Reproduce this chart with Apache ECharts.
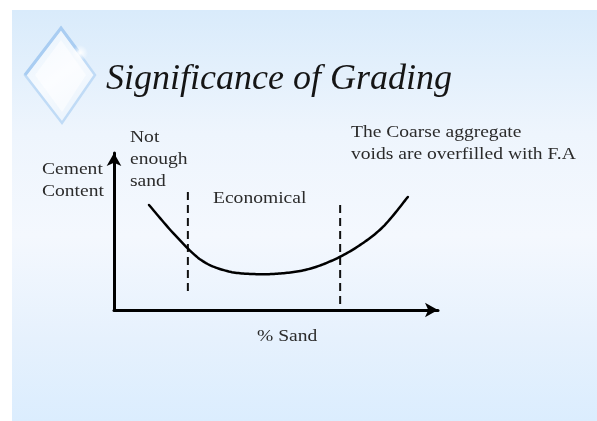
<!DOCTYPE html>
<html>
<head>
<meta charset="utf-8">
<script src="https://cdn.jsdelivr.net/npm/echarts@6/dist/echarts.min.js"></script>
<style>
html,body{margin:0;padding:0;background:#fff;}
#c{width:597px;height:421px;}
</style>
</head>
<body>
<div id="c"></div>
<script>
// ---- data ----
var curveX = [10.8, 18.8, 26.9, 34.9, 42.9, 50.9, 59.0, 67.0, 75.0, 83.0, 90.7];
var curveY = [66.9, 47.8, 31.8, 24.8, 22.9, 23.2, 25.5, 31.2, 40.1, 52.9, 72.0];
var dividerX = [22.8, 69.8];
var dividerYFrom = [12.1, 3.8];
var dividerYTo = [77.1, 68.8];
var titleText = 'Significance of Grading';
var yAxisName = ['Cement', 'Content'];
var xAxisName = '% Sand';
var leftZoneLabel = ['Not', 'enough', 'sand'];
var midZoneLabel = 'Economical';
var rightZoneLabel = ['The Coarse aggregate', 'voids are overfilled with F.A'];

var chart = echarts.init(document.getElementById('c'), null, {renderer: 'canvas'});

var curveData = curveX.map(function (x, i) { return [x, curveY[i]]; });
var dividerSeries = dividerX.map(function (x, i) {
  return {
    type: 'line', silent: true, symbol: 'none',
    data: [[x, dividerYFrom[i]], [x, dividerYTo[i]]],
    lineStyle: {color: '#111', width: 2, type: [8, 5]}, z: 3
  };
});

// Catmull-Rom curve through the data points, positioned by the axes (api.coord)
function renderCurve(params, api) {
  if (params.dataIndex !== 0) return null;
  var pts = curveData.map(function (d) { return api.coord(d); });
  var out = [pts[0]];
  for (var i = 0; i < pts.length - 1; i++) {
    var p0 = pts[i - 1] || pts[i], p1 = pts[i], p2 = pts[i + 1], p3 = pts[i + 2] || pts[i + 1];
    for (var s = 1; s <= 16; s++) {
      var t = s / 16, t2 = t * t, t3 = t2 * t;
      var pt = [0, 1].map(function (k) {
        return 0.5 * ((2 * p1[k]) + (-p0[k] + p2[k]) * t +
          (2 * p0[k] - 5 * p1[k] + 4 * p2[k] - p3[k]) * t2 +
          (-p0[k] + 3 * p1[k] - 3 * p2[k] + p3[k]) * t3);
      });
      out.push(pt);
    }
  }
  return {type: 'polyline', shape: {points: out},
    style: {stroke: '#000', lineWidth: 2.5, fill: null, lineJoin: 'round', lineCap: 'round'}};
}

var serif = '"Liberation Serif", "DejaVu Serif", serif';
var txtColor = '#2b2b2b';
function label(text, x, y) {
  return {type: 'text', x: x, y: y, scaleX: 1.15, z: 10,
    style: {text: text, x: 0, y: 0, fill: txtColor, font: '17px ' + serif, textVerticalAlign: 'middle'}};
}

var graphics = [
  {type: 'rect', shape: {x: 12, y: 10, width: 585, height: 411}, z: -10,
   style: {fill: new echarts.graphic.LinearGradient(0, 0, 0, 1, [
     {offset: 0, color: '#d9ebfb'},
     {offset: 0.3, color: '#eef5fd'},
     {offset: 0.55, color: '#f4f8fe'},
     {offset: 0.8, color: '#e6f1fd'},
     {offset: 1, color: '#dbedfe'}
   ])}},
  {type: 'polygon', shape: {points: [[61, 28], [95, 75], [62, 123], [25, 75]]}, z: -5,
   style: {fill: new echarts.graphic.LinearGradient(0, 0, 1, 1, [
     {offset: 0, color: '#e6f2fd'}, {offset: 0.5, color: '#f6fafe'}, {offset: 1, color: '#e6f1fc'}
   ]), stroke: '#c0dbf6', lineWidth: 2.5}},
  {type: 'polyline', shape: {points: [[25, 75], [61, 28], [78, 51]]}, z: -4,
   style: {stroke: '#a9cdf2', lineWidth: 3, fill: null}},
  {type: 'polygon', shape: {points: [[61, 40], [86, 75], [62, 112], [35, 75]]}, z: -4,
   style: {fill: 'rgba(255,255,255,0.55)'}},
  {type: 'circle', shape: {cx: 80, cy: 53, r: 8}, z: -3,
   style: {fill: new echarts.graphic.RadialGradient(0.5, 0.5, 0.5, [
     {offset: 0, color: 'rgba(255,255,255,1)'}, {offset: 1, color: 'rgba(255,255,255,0)'}
   ])}},
  {type: 'text', z: 10, style: {text: titleText, x: 106, y: 80, textVerticalAlign: 'middle',
    fill: '#151515', font: 'italic 36px ' + serif}},
  label(yAxisName[0], 42, 170),
  label(yAxisName[1], 42, 192),
  label(leftZoneLabel[0], 130, 138),
  label(leftZoneLabel[1], 130, 160),
  label(leftZoneLabel[2], 130, 182),
  label(midZoneLabel, 213, 199),
  label(rightZoneLabel[0], 351, 133),
  label(rightZoneLabel[1], 351, 155),
  label(xAxisName, 257, 337)
];

chart.setOption({
  animation: false,
  backgroundColor: '#ffffff',
  grid: {left: 114, right: 159, top: 153, bottom: 111},
  xAxis: {
    type: 'value', min: 0, max: 100,
    axisLine: {show: true, lineStyle: {color: '#000', width: 3}, symbol: ['none', 'arrow'], symbolSize: [11, 13]},
    axisTick: {show: false}, axisLabel: {show: false}, splitLine: {show: false}
  },
  yAxis: {
    type: 'value', min: 0, max: 100,
    axisLine: {show: true, lineStyle: {color: '#000', width: 3}, symbol: ['none', 'arrow'], symbolSize: [11, 13]},
    axisTick: {show: false}, axisLabel: {show: false}, splitLine: {show: false}
  },
  graphic: graphics,
  series: [{
    type: 'custom', silent: true, coordinateSystem: 'cartesian2d',
    encode: {x: 0, y: 1}, data: curveData, renderItem: renderCurve, z: 4
  }].concat(dividerSeries)
});
</script>
</body>
</html>
